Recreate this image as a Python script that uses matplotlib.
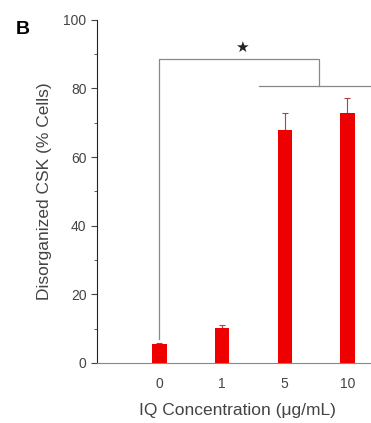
import numpy as np
import matplotlib.pyplot as plt

plt.rcParams['font.family'] = ['Liberation Sans', 'DejaVu Sans']

conc = ['0', '1', '5', '10']
pct = [5.5, 10.2, 68, 73]
err = [0.4, 1.0, 5.0, 4.2]

fig = plt.figure(figsize=(3.71, 4.23), dpi=100)
ax = fig.add_axes([0.261, 0.142, 0.76, 0.811])

x = np.arange(len(conc))
ax.bar(x, pct, width=0.23, color='#ee0000', zorder=3)
ax.errorbar(x, pct, yerr=[np.zeros(4), err], fmt='none', ecolor='#aa4444',
            elinewidth=0.8, capsize=2, capthick=0.8, zorder=2)

# significance bracket
gc = '#888888'
ax.plot([0, 0, 2.54, 2.54], [7, 88.6, 88.6, 80.8], color=gc, lw=0.9, zorder=1)
ax.plot([1.59, 3.45], [80.8, 80.8], color=gc, lw=0.9, zorder=1)
ax.text(1.31, 92, '★', ha='center', va='center', fontsize=11, color='#222222',
        family='DejaVu Sans')

ax.set_xlim(-1, 3.5)
ax.set_ylim(0, 100)
ax.set_xticks(x)
ax.set_xticklabels(conc)
ax.set_yticks([0, 20, 40, 60, 80, 100])
ax.set_yticks([10, 30, 50, 70, 90], minor=True)
ax.tick_params(axis='x', length=0, labelsize=10, colors='#444444', pad=10)
ax.tick_params(axis='y', which='major', length=4, labelsize=10, colors='#444444', direction='out')
ax.tick_params(axis='y', which='minor', length=2.5, direction='out', colors='#444444')
for s in ['top', 'right']:
    ax.spines[s].set_visible(False)
ax.spines['left'].set_color('#222222')
ax.spines['bottom'].set_color('#888888')

ax.set_xlabel('IQ Concentration (μg/mL)', fontsize=12.5, color='#444444', labelpad=9)
ax.set_ylabel('Disorganized CSK (% Cells)', fontsize=12.5, color='#444444', labelpad=8)

fig.text(0.06, 0.93, 'B', fontsize=14, fontweight='bold', ha='center', va='center')

fig.savefig('out.png', dpi=100)
